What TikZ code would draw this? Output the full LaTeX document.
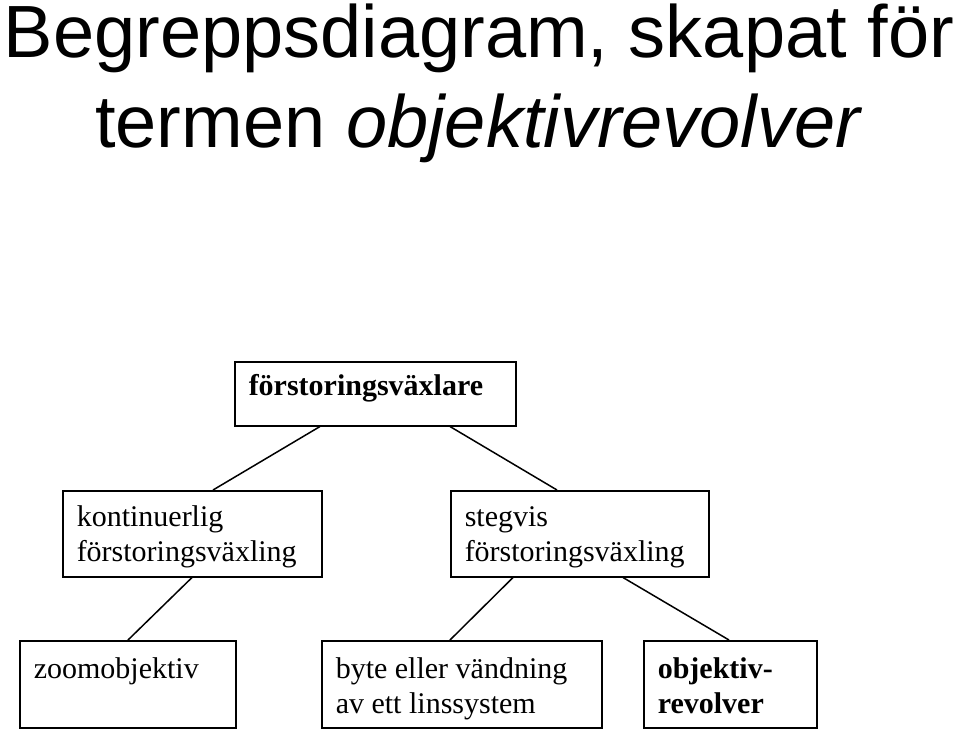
\documentclass[tikz,border=0pt]{standalone}
\usepackage{fontspec}
\usepackage{tikz}
\usetikzlibrary{calc}
\newfontfamily\titlefont{Liberation Sans}
\newfontfamily\boxfont{Liberation Serif}

\begin{document}
\begin{tikzpicture}[
    x=1pt, y=-1pt,
    title/.style={font=\titlefont\fontsize{74}{90}\selectfont, align=center,
        anchor=north, inner sep=0pt, text height=147pt, text depth=20pt},
    concept/.style={draw, line width=1.5pt, anchor=north west, align=flush left,
        inner xsep=14pt, inner ysep=0pt,
        font=\boxfont\fontsize{30}{35}\selectfont},
    toprow/.style={concept, text height=34pt, text depth=30pt},
    midrow/.style={concept, text height=36pt, text depth=50pt},
    lowrow/.style={concept, text height=38pt, text depth=49pt},
    link/.style={line width=1.5pt},
]
\useasboundingbox (0,0) rectangle (960,729);

% === Title ===
\node[title] (title) at (479,0)
    {Begreppsdiagram, skapat för\\termen \textit{objektivrevolver}};

% === Concept boxes ===
\node[toprow, text width=253pt] (vaxlare) at (234,361) {\textbf{förstoringsväxlare}};

\node[midrow, text width=231pt] (kont) at (62,490) {kontinuerlig\\förstoringsväxling};
\node[midrow, text width=230pt] (steg) at (450,490) {stegvis\\förstoringsväxling};

\node[lowrow, text width=188pt] (zoom) at (19,640) {zoomobjektiv};
\node[lowrow, text width=252pt] (byte) at (321,640) {byte eller vändning\\av ett linssystem};
\node[lowrow, text width=145pt] (revolver) at (643,640) {\textbf{objektiv-}\\\textbf{revolver}};

% === Links ===
\draw[link] ($(vaxlare.south west)+(86,0)$) -- ($(kont.north west)+(151,0)$);
\draw[link] ($(vaxlare.south west)+(216,0)$) -- ($(steg.north west)+(107,0)$);
\draw[link] ($(kont.south west)+(130,0)$) -- ($(zoom.north west)+(109,0)$);
\draw[link] ($(steg.south west)+(63,0)$) -- ($(byte.north west)+(129,0)$);
\draw[link] ($(steg.south west)+(173,0)$) -- ($(revolver.north west)+(86,0)$);

\end{tikzpicture}
\end{document}
